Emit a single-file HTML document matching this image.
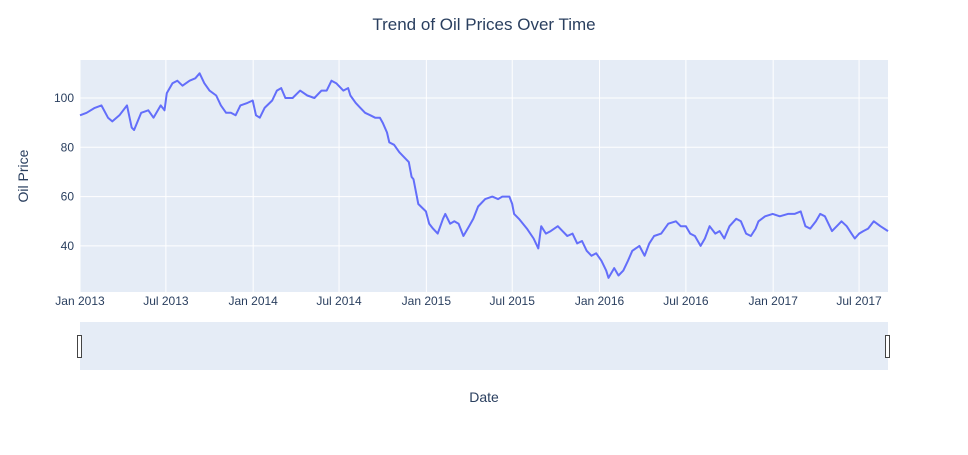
<!DOCTYPE html>
<html><head><meta charset="utf-8"><style>
body{margin:0;background:#fff;font-family:"Liberation Sans",sans-serif}
svg text{font-family:"Liberation Sans",sans-serif;fill:#2a3f5f}
</style></head><body>
<svg id="c" width="968" height="450" xmlns="http://www.w3.org/2000/svg">
<rect width="968" height="450" fill="#fff"/>
<text x="484" y="30" text-anchor="middle" font-size="17">Trend of Oil Prices Over Time</text>
<rect x="80" y="60" width="808" height="232" fill="#e5ecf6"/>
<g id="grid"></g>
<path id="line" fill="none" stroke="#636efa" stroke-width="2" stroke-linejoin="round"/>
<text x="28" y="176" font-size="14" text-anchor="middle" transform="rotate(-90 28 176)">Oil Price</text>
<rect x="80" y="322" width="808" height="48" fill="#e5ecf6"/>
<rect x="77.5" y="335.5" width="4" height="22" fill="#fff" stroke="#444"/>
<rect x="885.5" y="335.5" width="4" height="22" fill="#fff" stroke="#444"/>
<text x="484" y="402" font-size="14" text-anchor="middle">Date</text>
</svg>
<script>
const dates=["2013-01-01","2013-01-15","2013-02-01","2013-02-15","2013-03-01","2013-03-10","2013-03-25","2013-04-10","2013-04-20","2013-04-25","2013-05-10","2013-05-25","2013-06-05","2013-06-20","2013-06-28","2013-07-03","2013-07-15","2013-07-25","2013-08-05","2013-08-20","2013-09-01","2013-09-10","2013-09-20","2013-10-01","2013-10-15","2013-10-25","2013-11-05","2013-11-15","2013-11-25","2013-12-05","2013-12-20","2013-12-31","2014-01-07","2014-01-15","2014-01-25","2014-02-10","2014-02-20","2014-03-01","2014-03-10","2014-03-25","2014-04-10","2014-04-25","2014-05-10","2014-05-25","2014-06-05","2014-06-15","2014-06-25","2014-07-10","2014-07-20","2014-07-25","2014-08-05","2014-08-15","2014-08-25","2014-09-05","2014-09-15","2014-09-25","2014-10-01","2014-10-10","2014-10-15","2014-10-25","2014-11-05","2014-11-15","2014-11-25","2014-12-01","2014-12-05","2014-12-10","2014-12-15","2014-12-31","2015-01-07","2015-01-15","2015-01-25","2015-02-05","2015-02-10","2015-02-20","2015-03-01","2015-03-10","2015-03-20","2015-04-01","2015-04-10","2015-04-20","2015-05-05","2015-05-20","2015-06-01","2015-06-10","2015-06-25","2015-07-01","2015-07-05","2015-07-15","2015-08-01","2015-08-15","2015-08-25","2015-08-31","2015-09-10","2015-09-20","2015-10-05","2015-10-15","2015-10-25","2015-11-05","2015-11-15","2015-11-25","2015-12-05","2015-12-15","2015-12-25","2016-01-05","2016-01-15","2016-01-20","2016-02-01","2016-02-10","2016-02-20","2016-03-01","2016-03-10","2016-03-25","2016-04-05","2016-04-15","2016-04-25","2016-05-10","2016-05-25","2016-06-10","2016-06-20","2016-07-01","2016-07-10","2016-07-20","2016-08-01","2016-08-10","2016-08-20","2016-09-01","2016-09-10","2016-09-20","2016-10-01","2016-10-15","2016-10-25","2016-11-05","2016-11-15","2016-11-25","2016-12-01","2016-12-15","2016-12-31","2017-01-15","2017-02-01","2017-02-15","2017-02-28","2017-03-10","2017-03-20","2017-04-01","2017-04-10","2017-04-20","2017-05-05","2017-05-15","2017-05-25","2017-06-05","2017-06-15","2017-06-22","2017-07-01","2017-07-10","2017-07-20","2017-08-01","2017-08-15","2017-08-31"];
const prices=[93,94,96,97,92,90.5,93,97,88,87,94,95,92,97,95,102,106,107,105,107,108,110,106,103,101,97,94,94,93,97,98,99,93,92,96,99,103,104,100,100,103,101,100,103,103,107,106,103,104,101,98,96,94,93,92,92,90,86,82,81,78,76,74,68,67,62,57,54,49,47,45,51,53,49,50,49,44,48,51,56,59,60,59,60,60,57,53,51,47,43,39,48,45,46,48,46,44,45,41,42,38,36,37,34,30,27,31,28,30,34,38,40,36,41,44,45,49,50,48,48,45,44,40,43,48,45,46,43,48,51,50,45,44,47,50,52,53,52,53,53,54,48,47,50,53,52,46,48,50,48,45,43,45,46,47,50,48,46];
const yTicks=[40,60,80,100];
const xTickLabels=["Jan 2013","Jul 2013","Jan 2014","Jul 2014","Jan 2015","Jul 2015","Jan 2016","Jul 2016","Jan 2017","Jul 2017"];
const xTickDates=["2013-01-01","2013-07-01","2014-01-01","2014-07-01","2015-01-01","2015-07-01","2016-01-01","2016-07-01","2017-01-01","2017-07-01"];
const t0=Date.parse("2013-01-01"),t1=Date.parse("2017-08-31");
const X=d=>80+(Date.parse(d)-t0)/(t1-t0)*808;
const Y=v=>98+(100-v)*49.3/20;
const NS="http://www.w3.org/2000/svg",svg=document.getElementById('c'),g=document.getElementById('grid');
function mk(t,a,p){const e=document.createElementNS(NS,t);for(const k in a)e.setAttribute(k,a[k]);(p||g).appendChild(e);return e;}
yTicks.forEach(v=>{
 const l=mk('line',{x1:80,x2:888,y1:Y(v),y2:Y(v),stroke:'#fff','stroke-width':1});
 
 
 const t=mk('text',{x:74,y:Y(v)+4,'text-anchor':'end','font-size':12},svg);t.textContent=v;
 
 
});
xTickDates.forEach((d,i)=>{
 const l=mk('line',{x1:X(d),x2:X(d),y1:60,y2:292,stroke:'#fff','stroke-width':1});
 
 
 const t=mk('text',{x:X(d),y:305,'text-anchor':'middle','font-size':12},svg);t.textContent=xTickLabels[i];
 
 
});
document.getElementById('line').setAttribute('d',dates.map((d,i)=>(i?'L':'M')+X(d).toFixed(1)+','+Y(prices[i]).toFixed(1)).join(''));
</script>
</body></html>
